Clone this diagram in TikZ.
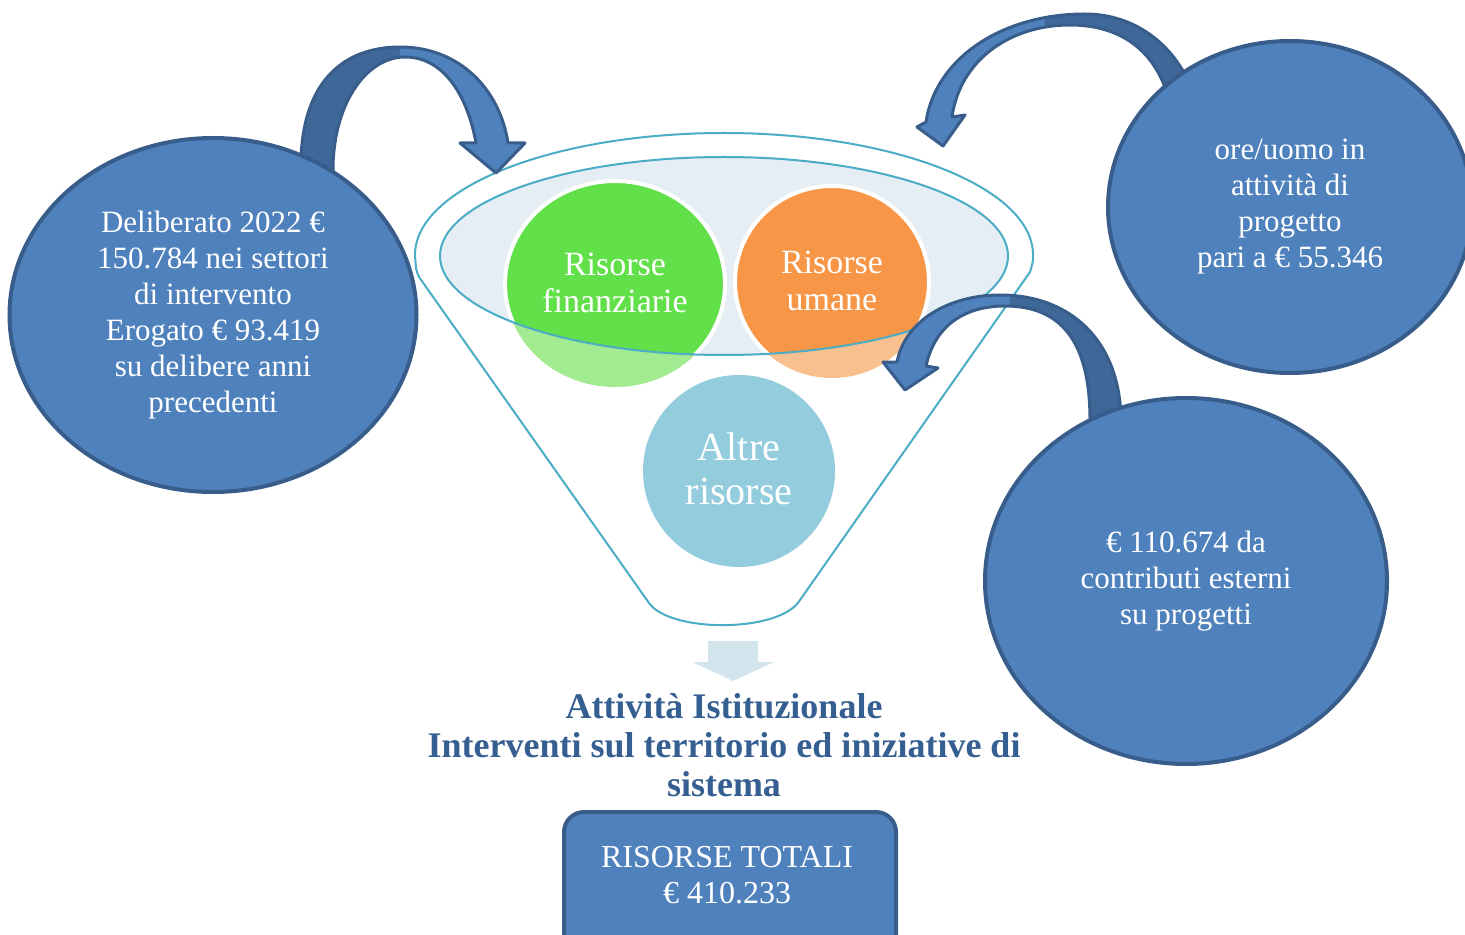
\documentclass[tikz,border=0pt]{standalone}
\usepackage{fontspec}
\setmainfont{Liberation Serif}
\usetikzlibrary{shapes.geometric}
\definecolor{ballblue}{HTML}{4F81BD}
\definecolor{balledge}{HTML}{385D8A}
\definecolor{arrdark}{HTML}{3F6797}
\definecolor{funnel}{HTML}{4BACC6}
\definecolor{rimfill}{HTML}{E5EEF4}
\definecolor{fingreen}{HTML}{62E04A}
\definecolor{fingreenl}{HTML}{A2EB91}
\definecolor{umaorange}{HTML}{F79646}
\definecolor{umaorangel}{HTML}{F9C08F}
\definecolor{altreblue}{HTML}{93CDDD}
\definecolor{downfill}{HTML}{D2E4EC}
\definecolor{titleblue}{HTML}{365F91}

\begin{document}
\begin{tikzpicture}
  [x=0.5pt,y=-0.5pt,
   ball/.style={ellipse,fill=ballblue,draw=balledge,line width=2pt,text=white,align=center,inner sep=0pt,font=\fontsize{15.5}{18}\selectfont},
   blob/.style={text=white,align=center,font=\fontsize{17}{18.5}\selectfont},
   curvearr/.style={draw=balledge,line width=1.5pt,line join=round}]
  \useasboundingbox (0,0) rectangle (1465,935);

  % funnel
  \draw[funnel,line width=1pt,fill=white] (415,255) arc[start angle=180,end angle=360,x radius=309,y radius=122]
    .. controls (1033,262) .. (1030,272) -- (800,600) .. controls (780,633) and (670,633) .. (649,603)
    -- (419,277) .. controls (416,270) .. (415,255) -- cycle;
  \fill[rimfill] (724,256) ellipse[x radius=284,y radius=99];
  \fill[fingreenl] (615,284) ellipse[x radius=110,y radius=103];
  \fill[umaorangel] (832,282) ellipse[x radius=97,y radius=96];
  \begin{scope}
    \clip (724,256) ellipse[x radius=284,y radius=99];
    \filldraw[fill=fingreen,draw=white,line width=2pt] (615,284) ellipse[x radius=110,y radius=103];
    \filldraw[fill=umaorange,draw=white,line width=2pt] (832,282) ellipse[x radius=97,y radius=96];
  \end{scope}
  \draw[funnel,line width=1pt] (724,256) ellipse[x radius=284,y radius=99];
  \fill[altreblue] (739,471) ellipse[x radius=96,y radius=96];

  \node[blob] (fin) at (615,283) {Risorse\\finanziarie};
  \node[blob] (uma) at (832,281) {Risorse\\umane};
  \node[blob,font=\fontsize{20}{22}\selectfont] (altre) at (739,469) {Altre\\risorse};

  % curved arrows
  \def\arrL{(301,185) -- (301,160) .. controls (303,80) and (345,47) .. (400,47)
    .. controls (460,47) and (500,90) .. (508,143) -- (525,143) -- (496,173) -- (460,143) -- (476,143)
    .. controls (468,98) and (445,57) .. (405,57) .. controls (368,57) and (335,100) .. (333,165) -- (333,185) -- cycle}
  \def\arrR{(1192,95) -- (1192,90) .. controls (1175,45) and (1135,14) .. (1085,14)
    .. controls (1000,14) and (935,60) .. (926,122) -- (917,127) -- (943,146) -- (965,115) -- (952,117)
    .. controls (960,60) and (1010,25) .. (1070,25) .. controls (1115,25) and (1150,45) .. (1166,90) -- (1166,95) -- cycle}
  \def\arrB{(1121,430) -- (1121,420) .. controls (1120,340) and (1070,295) .. (1000,295)
    .. controls (950,295) and (905,320) .. (897,362) -- (883,362) -- (905,390) -- (938,368) -- (926,366)
    .. controls (935,325) and (965,306) .. (1005,306) .. controls (1060,306) and (1090,340) .. (1090,420) -- (1090,430) -- cycle}
  \fill[ballblue] \arrL;
  \fill[ballblue] \arrR;
  \fill[ballblue] \arrB;
  \begin{scope}
    \clip (0,0) rectangle (400,200);
    \fill[arrdark] \arrL;
  \end{scope}
  \begin{scope}
    \clip (1045,0) rectangle (1300,200);
    \fill[arrdark] \arrR;
  \end{scope}
  \begin{scope}
    \clip (1010,250) rectangle (1200,450);
    \fill[arrdark] \arrB;
  \end{scope}
  \draw[curvearr] \arrL;
  \draw[curvearr] \arrR;
  \draw[curvearr] \arrB;

  % resource balls
  \node[ball,minimum width=203.5pt,minimum height=177pt] (delib) at (213,315)
    {Deliberato 2022 €\\150.784 nei settori\\di intervento\\Erogato € 93.419\\su delibere anni\\precedenti};
  \node[ball,minimum width=182pt,minimum height=166pt] (ore) at (1290,207)
    {ore/uomo in\\attività di\\progetto\\pari a € 55.346};
  \node[ball,minimum width=201pt,minimum height=183pt] (contr) at (1186,581)
    {€ 110.674 da\\contributi esterni\\su progetti};

  % output
  \fill[downfill] (708,641) -- (758,641) -- (758,662) -- (774,662) -- (733,681) -- (692,662) -- (708,662) -- cycle;
  \node[text=titleblue,align=center,font=\bfseries\fontsize{18}{19.5}\selectfont] (titolo) at (724,745)
    {Attività Istituzionale\\Interventi sul territorio ed iniziative di\\sistema};
  \draw[fill=ballblue,draw=balledge,line width=2pt,rounded corners=10pt] (564,812) rectangle (896,965);
  \node[text=white,align=center,font=\fontsize{16}{18}\selectfont] (tot) at (727,875) {RISORSE TOTALI\\€ 410.233};
\end{tikzpicture}
\end{document}
